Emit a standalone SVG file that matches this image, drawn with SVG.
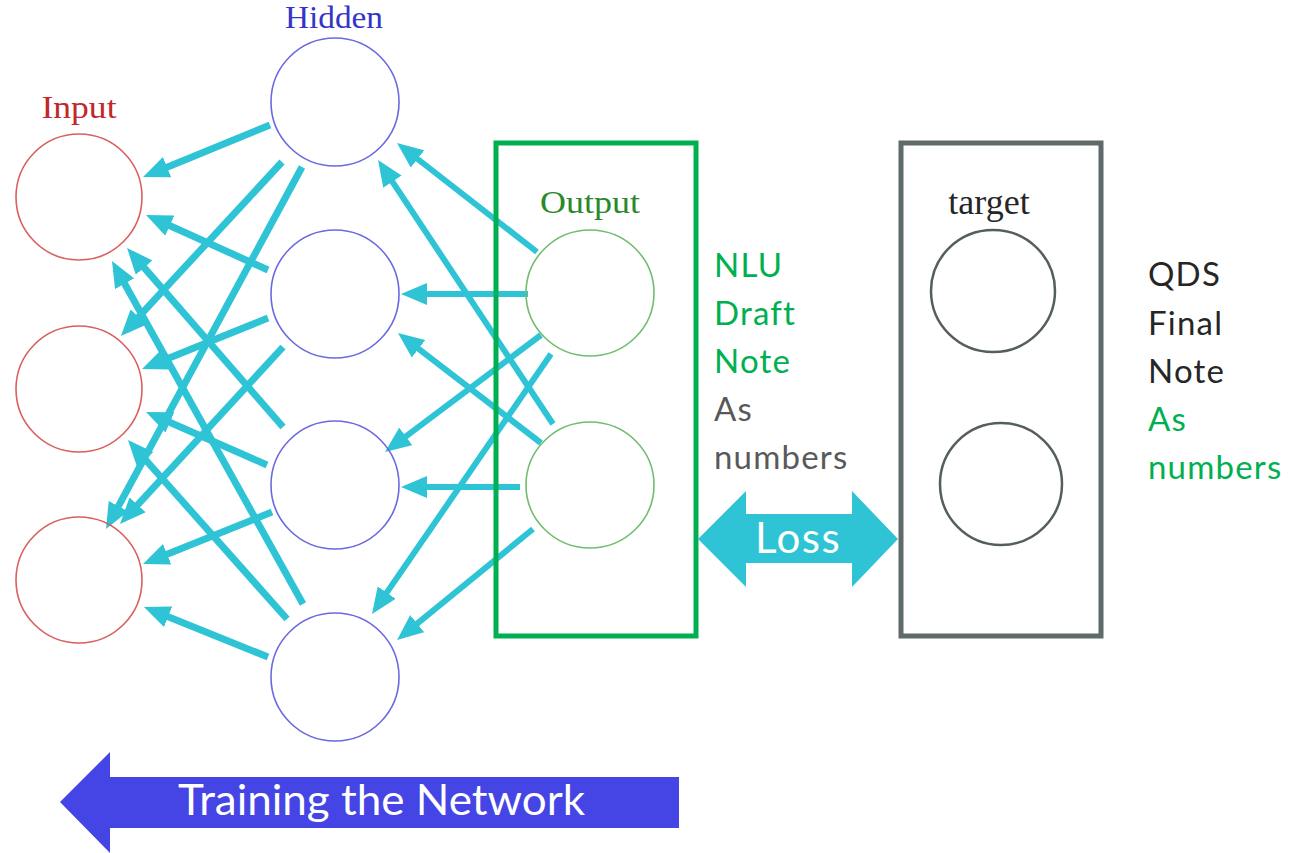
<svg xmlns="http://www.w3.org/2000/svg" width="1303" height="853" viewBox="0 0 1303 853">
<defs>
<style>
.in{fill:none;stroke:#d8605e;stroke-width:1.6}
.hd{fill:none;stroke:#6a6ae0;stroke-width:1.6}
.out{fill:none;stroke:#70bd70;stroke-width:1.6}
.tg{fill:none;stroke:#555e5e;stroke-width:2.5}
.cm{font-family:"Liberation Serif","DejaVu Serif",serif;font-size:31px;text-anchor:middle}
.lab{font-family:Lato,"Open Sans",sans-serif;font-size:33px;letter-spacing:1.2px}
.c1{stroke:#2ec4d6;stroke-width:7;fill:none;marker-end:url(#ah)}
.c2{stroke:#2ec4d6;stroke-width:6;fill:none;marker-end:url(#ah)}
.grn{fill:#00b050}
.gry{fill:#595959}
.dk{fill:#262626}
</style>
<marker id="ah" viewBox="0 0 26 22" markerWidth="26" markerHeight="22" refX="4" refY="11" orient="auto" markerUnits="userSpaceOnUse">
<path d="M0,0 L26,11 L0,22 z" fill="#2ec4d6"/>
</marker>
</defs>
<rect width="1303" height="853" fill="#ffffff"/>

<g id="connectors">
<line class="c1" x1="270" y1="125" x2="163.4" y2="168.7"/>
<line class="c1" x1="282" y1="162" x2="135.9" y2="319.9"/>
<line class="c1" x1="302" y1="167" x2="116.5" y2="509.7"/>
<line class="c1" x1="268" y1="270" x2="166.1" y2="224"/>
<line class="c1" x1="268" y1="318" x2="162.4" y2="360.7"/>
<line class="c1" x1="283" y1="347" x2="134.9" y2="507.8"/>
<line class="c1" x1="283" y1="427" x2="141.5" y2="264.6"/>
<line class="c1" x1="267" y1="465" x2="166.2" y2="420.8"/>
<line class="c1" x1="272" y1="512" x2="163.4" y2="555.7"/>
<line class="c1" x1="303" y1="604" x2="122.7" y2="280.2"/>
<line class="c1" x1="287" y1="619" x2="142.6" y2="456.5"/>
<line class="c1" x1="268" y1="657" x2="164.4" y2="615.2"/>
<line class="c2" x1="537" y1="252" x2="414.4" y2="156.5"/>
<line class="c2" x1="528" y1="294" x2="423" y2="294"/>
<line class="c2" x1="541" y1="335" x2="402.6" y2="438.8"/>
<line class="c2" x1="551" y1="354" x2="384.5" y2="595.9"/>
<line class="c2" x1="553" y1="424" x2="390.2" y2="178.3"/>
<line class="c2" x1="541" y1="443" x2="415.4" y2="346.4"/>
<line class="c2" x1="520" y1="487" x2="423" y2="487"/>
<line class="c2" x1="533" y1="529" x2="414.1" y2="626.1"/>
</g>

<g id="input-layer">
<text class="cm" x="79" y="118" fill="#c0282c" textLength="75" lengthAdjust="spacingAndGlyphs">Input</text>
<circle id="input1" class="in" cx="79" cy="197" r="63"/>
<circle id="input2" class="in" cx="79" cy="389" r="63"/>
<circle id="input3" class="in" cx="79" cy="580" r="63"/>
</g>

<g id="hidden-layer">
<text class="cm" x="334" y="28" fill="#3434c8" textLength="98" lengthAdjust="spacingAndGlyphs">Hidden</text>
<circle id="hidden1" class="hd" cx="335" cy="102" r="64"/>
<circle id="hidden2" class="hd" cx="335" cy="294" r="64"/>
<circle id="hidden3" class="hd" cx="335" cy="485" r="64"/>
<circle id="hidden4" class="hd" cx="335" cy="677" r="64"/>
</g>

<g id="output-layer">
<rect x="496" y="143" width="200" height="493" fill="none" stroke="#00b050" stroke-width="5"/>
<text class="cm" x="590" y="213" fill="#2a8a2a" textLength="100" lengthAdjust="spacingAndGlyphs">Output</text>
<ellipse id="output1" class="out" cx="590" cy="293" rx="64" ry="63"/>
<ellipse id="output2" class="out" cx="590" cy="485" rx="64" ry="63"/>
</g>

<g id="output-label">
<text class="lab grn" x="714" y="277">NLU</text>
<text class="lab grn" x="714" y="325">Draft</text>
<text class="lab grn" x="714" y="373">Note</text>
<text class="lab gry" x="714" y="421">As</text>
<text class="lab gry" x="714" y="469">numbers</text>
</g>

<g id="loss">
<polygon points="698,539 746,491 746,514 852,514 852,491 898,539 852,587 852,563 746,563 746,587" fill="#2ec4d6"/>
<text x="798" y="553" font-family="Lato,'Open Sans',sans-serif" font-size="42" letter-spacing="1.5" fill="#ffffff" text-anchor="middle">Loss</text>
</g>

<g id="target">
<rect x="901" y="143" width="200" height="493" fill="none" stroke="#5f6a6a" stroke-width="5"/>
<text x="989" y="214" font-family="'Liberation Serif','DejaVu Serif',serif" font-size="36" fill="#262626" text-anchor="middle">target</text>
<ellipse id="target1" class="tg" cx="993" cy="291" rx="62" ry="61"/>
<ellipse id="target2" class="tg" cx="1001" cy="484" rx="61" ry="61"/>
</g>

<g id="target-label">
<text class="lab dk" x="1148" y="286">QDS</text>
<text class="lab dk" x="1148" y="335">Final</text>
<text class="lab dk" x="1148" y="383">Note</text>
<text class="lab grn" x="1148" y="431">As</text>
<text class="lab grn" x="1148" y="479">numbers</text>
</g>

<g id="training-arrow">
<polygon points="60,802 110,752 110,777 679,777 679,828 110,828 110,853" fill="#4545e5"/>
<text x="178" y="815" font-family="Lato,'Open Sans',sans-serif" font-size="42" fill="#ffffff" textLength="407" lengthAdjust="spacingAndGlyphs">Training the Network</text>
</g>
</svg>
